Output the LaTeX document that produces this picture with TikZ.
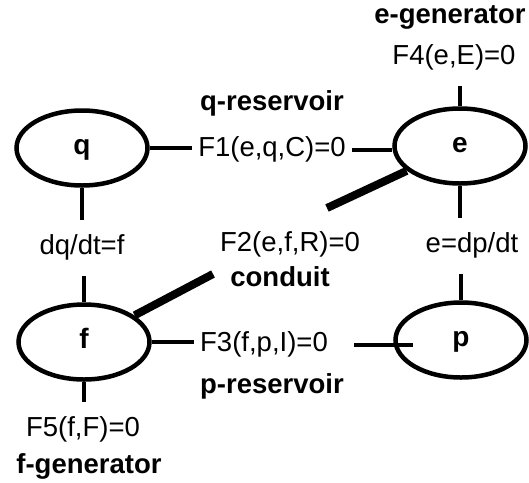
\documentclass[tikz,border=0pt]{standalone}
\usepackage{fontspec}
\setmainfont{Liberation Sans}
\usetikzlibrary{shapes.geometric}
\begin{document}
\begin{tikzpicture}[x=1pt,y=-1pt,
  var/.style={ellipse, draw, line width=4.5pt, minimum width=131pt, minimum height=75pt,
    inner sep=0pt, outer sep=2.5pt, text height=19pt, text depth=6pt,
    font=\fontsize{28}{30}\selectfont\bfseries},
  rel/.style={font=\fontsize{27.5}{30}\selectfont, inner xsep=6pt, inner ysep=15pt,
    text height=19pt, text depth=6pt},
  role/.style={font=\fontsize{27.5}{30}\selectfont\bfseries, inner sep=0pt,
    text height=19pt, text depth=6pt},
  stub/.style={line width=4.5pt},
  bond/.style={line width=8pt}]
\useasboundingbox (0,0) rectangle (529,482);

% state variables
\node[var] (q) at (82,148) {q};
\node[var] (e) at (460,146) {e};
\node[var] (f) at (84,342) {f};
\node[var] (p) at (461,340) {p};

% constraint relations
\node[rel] (F4)   at (454,58)  {F4(e,E)=0};
\node[rel] (F1)   at (272,150) {F1(e,q,C)=0};
\node[rel] (dqdt) at (82,248)  {dq/dt=f};
\node[rel] (F2)   at (290,245) {F2(e,f,R)=0};
\node[rel] (edp)  at (472,246) {e=dp/dt};
\node[rel] (F3)   at (264,345) {F3(f,p,I)=0};
\node[rel] (F5)   at (83,430)  {F5(f,F)=0};

% component names
\node[role] (egen) at (450,17)  {e-generator};
\node[role] (qres) at (272,104) {q-reservoir};
\node[role] (cond) at (280,280) {conduit};
\node[role] (pres) at (272,387) {p-reservoir};
\node[role] (fgen) at (89,467)  {f-generator};

% free ends of the conduit bonds
\coordinate (ce) at (327,208);
\coordinate (cf) at (213,274);

% connectors
\draw[stub] (q.east) -- (q.east -| F1.west);
\draw[stub] (F1.east) -- (F1.east -| e.west);
\draw[stub] (F4.south -| e.north) -- (e.north);
\draw[stub] (q.south) -- (q.south |- dqdt.north);
\draw[stub] (dqdt.south -| f.north) -- (f.north);
\draw[stub] (e.south) -- (e.south |- edp.north);
\draw[stub] (edp.south -| p.north) -- (p.north);
\draw[stub] (f.east) -- (f.east -| F3.west);
\draw[stub] ([xshift=20pt]F3.east) -- ([xshift=20pt]F3.east -| p.west);
\draw[stub] (f.south) -- (f.south |- F5.north);
\draw[bond] (e) -- (ce);
\draw[bond] (f) -- (cf);
\end{tikzpicture}
\end{document}
